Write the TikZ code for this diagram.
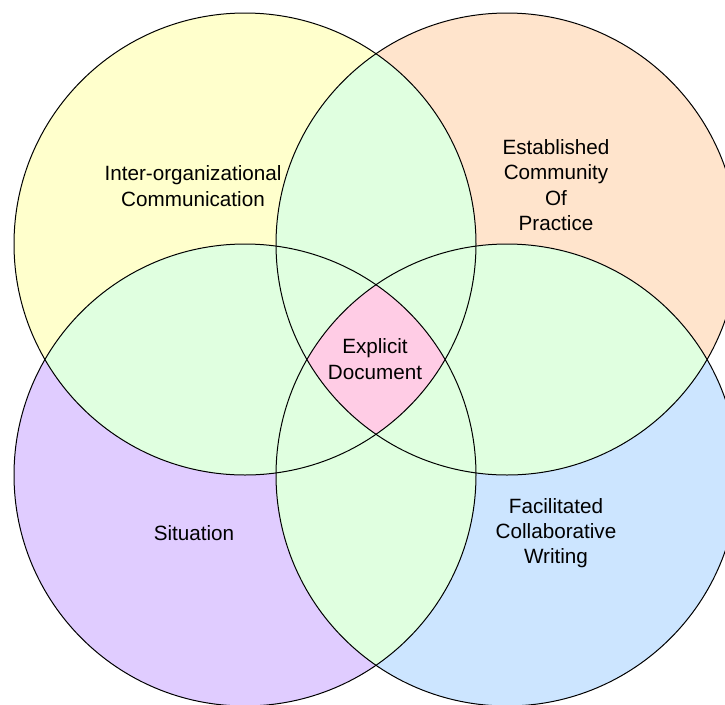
\documentclass[tikz,border=0pt]{standalone}
\usepackage{fontspec}
\setmainfont{Liberation Sans}
\definecolor{cYellow}{RGB}{255,255,204}
\definecolor{cOrange}{RGB}{255,228,204}
\definecolor{cPurple}{RGB}{224,204,255}
\definecolor{cBlue}{RGB}{204,229,255}
\definecolor{cGreen}{RGB}{224,255,224}
\definecolor{cPink}{RGB}{255,204,229}
\begin{document}
\begin{tikzpicture}[x=0.75pt,y=-0.75pt,
  ring/.style={draw=black,line width=0.75pt},
  lbl/.style={align=center,text=black,font=\fontsize{15.5}{19}\selectfont}]
\useasboundingbox (0,0) rectangle (725,704);
\fill[white] (0,0) rectangle (725,704);
\clip (0,0) rectangle (725,704);
\def\R{173.25pt}
% circle centres
\coordinate (tl) at (245,244);
\coordinate (tr) at (507,244);
\coordinate (bl) at (245,475);
\coordinate (br) at (507,475);
% base fills
\fill[cYellow] (tl) circle[radius=\R];
\fill[cOrange] (tr) circle[radius=\R];
\fill[cPurple] (bl) circle[radius=\R];
\fill[cBlue]   (br) circle[radius=\R];
% pairwise overlaps
\foreach \a/\b in {tl/tr,tl/bl,tl/br,tr/bl,tr/br,bl/br}{
  \begin{scope}
    \clip (\a) circle[radius=\R];
    \fill[cGreen] (\b) circle[radius=\R];
  \end{scope}
}
% common region of all four
\begin{scope}
  \clip (tl) circle[radius=\R];
  \clip (tr) circle[radius=\R];
  \clip (bl) circle[radius=\R];
  \fill[cPink] (br) circle[radius=\R];
\end{scope}
% outlines
\foreach \c in {tl,tr,bl,br}{
  \draw[ring] (\c) circle[radius=\R];
}
% labels
\node[lbl] (comm) at (193,186) {Inter-organizational\\Communication};
\node[lbl] (prac) at (556,185) {Established\\Community\\Of\\Practice};
\node[lbl] (doc)  at (375,359) {Explicit\\Document};
\node[lbl] (sit)  at (194,533) {Situation};
\node[lbl] (writ) at (556,533) {Facilitated\\Collaborative\\Writing};
\end{tikzpicture}
\end{document}
